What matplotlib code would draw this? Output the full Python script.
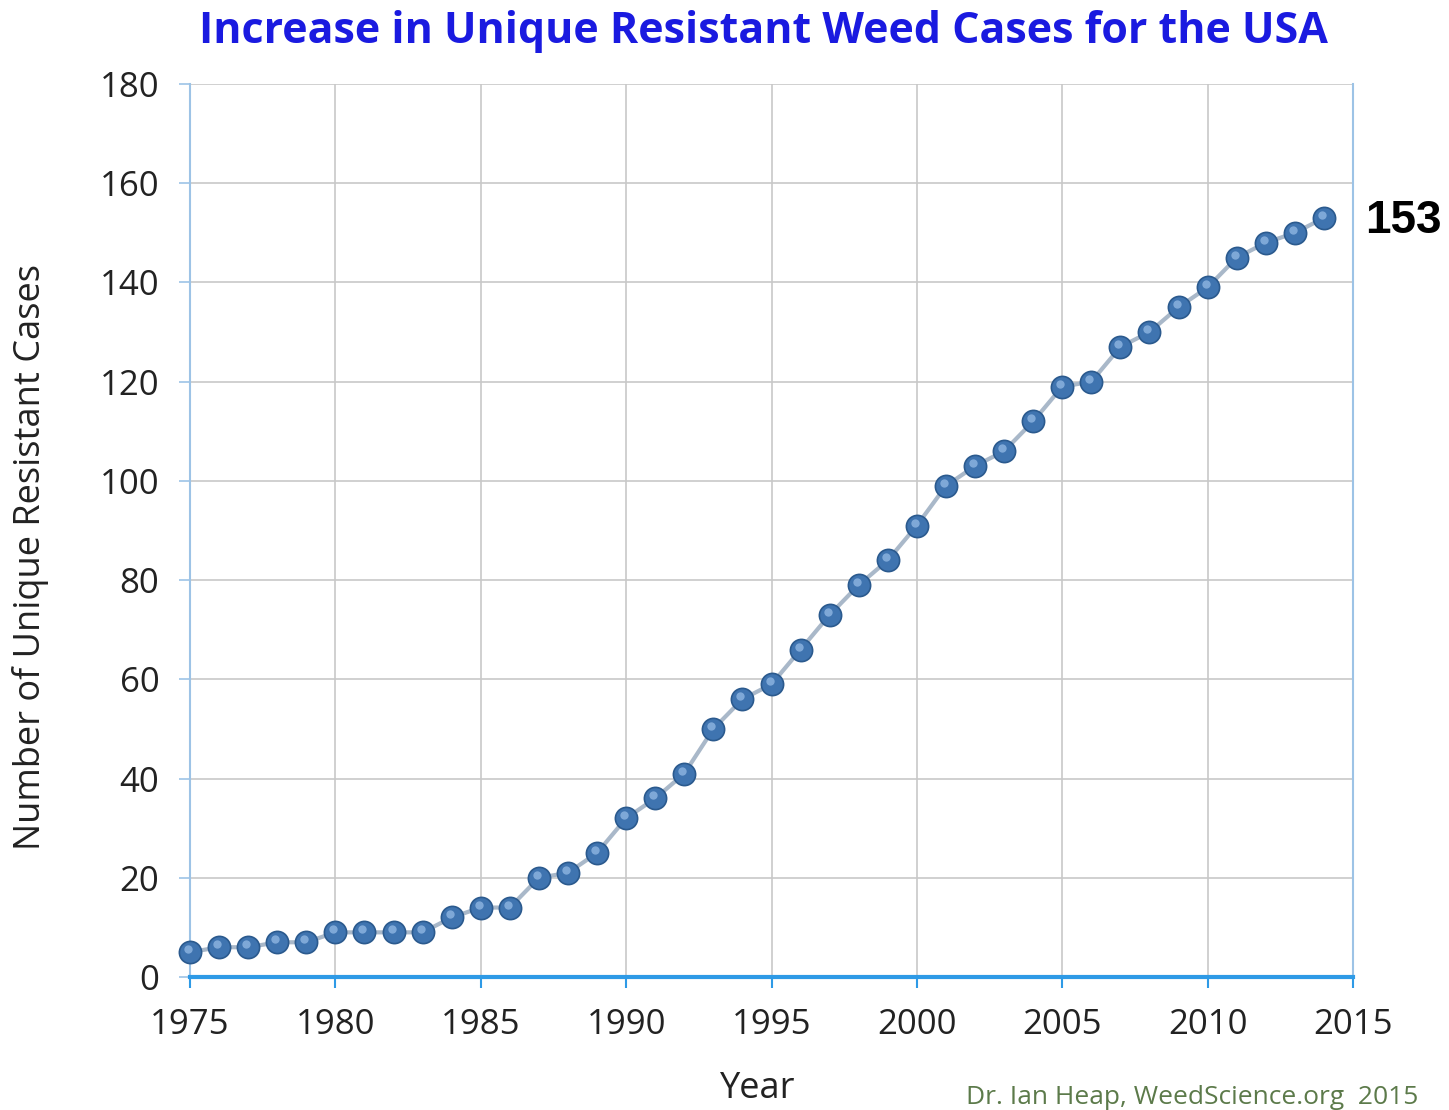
import numpy as np
import matplotlib.pyplot as plt
from matplotlib.transforms import ScaledTranslation

years = list(range(1975, 2015))
cases = [5, 6, 6, 7, 7, 9, 9, 9, 9, 12,
         14, 14, 20, 21, 25, 32, 36, 41, 50, 56,
         59, 66, 73, 79, 84, 91, 99, 103, 106, 112,
         119, 120, 127, 130, 135, 139, 145, 148, 150, 153]
xticks = [1975, 1980, 1985, 1990, 1995, 2000, 2005, 2010, 2015]
yticks = list(range(0, 181, 20))

fig = plt.figure(figsize=(14.49, 11.10), dpi=100)
ax = fig.add_axes([190 / 1449, 133 / 1110, 1163 / 1449, 893 / 1110])

ax.plot(years, cases, color="#a9b8c9", lw=3, zorder=2)
# ball markers with a small highlight to mimic the 3D look
ax.plot(years, cases, ls="none", marker="o", ms=16, mfc="#3f74b0",
        mec="#2b5a8e", mew=1.2, zorder=3, clip_on=False)
hl = ax.transData + ScaledTranslation(-2 / 100, 3 / 100, fig.dpi_scale_trans)
ax.plot(years, cases, ls="none", marker="o", ms=6, mfc="#8fb6e2",
        mec="none", alpha=0.8, zorder=4, transform=hl, clip_on=False)

ax.set_xlim(1975, 2015)
ax.set_ylim(0, 180)
ax.set_xticks(xticks)
ax.set_yticks(yticks)
ax.grid(True, color="#c8c8c8", lw=1.2)
ax.set_axisbelow(True)

for s in ["left", "right"]:
    ax.spines[s].set_color("#9dc3e6")
    ax.spines[s].set_linewidth(1.5)
ax.spines["top"].set_visible(False)
ax.spines["bottom"].set_color("#2e9ae6")
ax.spines["bottom"].set_linewidth(3)

ax.tick_params(axis="x", colors="#2e9ae6", length=8, width=1.5, labelsize=25,
               labelcolor="#222222", pad=14)
ax.tick_params(axis="y", colors="#9dc3e6", length=8, width=1.2, labelsize=25,
               labelcolor="#222222", pad=14)
for lab in ax.get_xticklabels() + ax.get_yticklabels():
    lab.set_family("Open Sans")

ax.set_xlabel("Year", fontsize=26, family="Open Sans", color="#222222", va="center")
ax.xaxis.set_label_coords(0.488, -0.125)
ax.set_ylabel("Number of Unique Resistant Cases", fontsize=26, family="Open Sans",
              color="#222222", va="center")
ax.yaxis.set_label_coords(-0.137, 0.47)

fig.text(0.527, 0.972, "Increase in Unique Resistant Weed Cases for the USA",
         ha="center", va="center", fontsize=31, fontweight="bold",
         family="Open Sans", color="#1a1ae0")

ax.annotate(str(cases[-1]), xy=(years[-1], cases[-1]), xytext=(30, -2),
            textcoords="offset points", fontsize=33, fontweight="bold",
            family="Liberation Sans", color="black", va="center", ha="left",
            annotation_clip=False)

fig.text(0.979, 0.011, "Dr. Ian Heap, WeedScience.org  2015", ha="right", va="center",
         fontsize=19, family="Open Sans", color="#5c7a4a")

fig.savefig("out.png", dpi=100)
